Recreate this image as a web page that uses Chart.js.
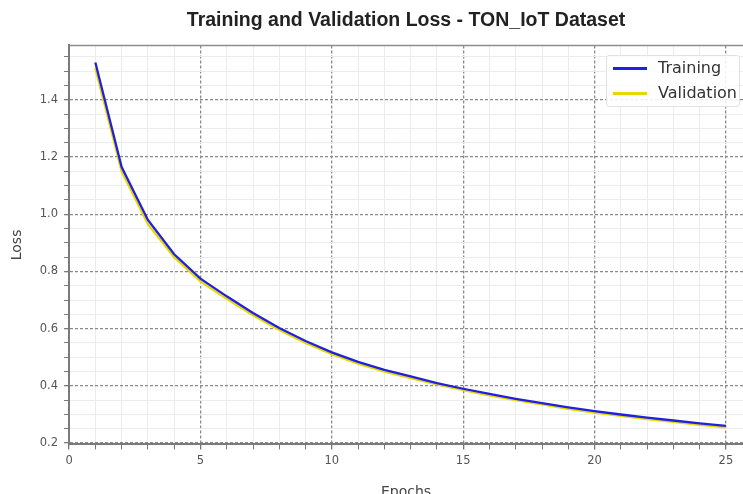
<!DOCTYPE html>
<html>
<head>
<meta charset="utf-8">
<script src="https://cdn.jsdelivr.net/npm/chart.js@4.4.1/dist/chart.umd.min.js"></script>
<style>
  body { margin: 0; background: #fff; }
  #wrap { position: relative; width: 743px; height: 494px; overflow: hidden; }
  #leyenda {
    position: absolute; left: 606px; top: 55px; width: 132px; height: 50px;
    background: rgba(255,255,255,0.85); border: 1px solid #e2e2e2; border-radius: 3px;
    font-family: "DejaVu Sans", sans-serif; font-size: 16px; color: #333;
  }
  #leyenda div { position: absolute; left: 6px; height: 20px; line-height: 20px; white-space: nowrap; }
  #leyenda span { display: inline-block; width: 34px; height: 2.5px; vertical-align: middle; margin-right: 11px; }
</style>
</head>
<body>
<div id="wrap">
  <canvas id="myChart"></canvas>
  <div id="leyenda"></div>
</div>
<script>
const epochs = [1, 2, 3, 4, 5, 6, 7, 8, 9, 10, 11, 12, 13, 14, 15, 16, 17, 18, 19, 20, 21, 22, 23, 24, 25];
const trainingLoss = [1.53, 1.165, 0.98, 0.86, 0.775, 0.713, 0.655, 0.602, 0.557, 0.517, 0.484, 0.456, 0.433, 0.41, 0.39, 0.372, 0.355, 0.34, 0.325, 0.312, 0.3, 0.289, 0.279, 0.269, 0.26];
const validationLoss = [1.51, 1.15, 0.965, 0.85, 0.765, 0.704, 0.647, 0.595, 0.55, 0.511, 0.478, 0.45, 0.427, 0.405, 0.385, 0.367, 0.35, 0.335, 0.32, 0.307, 0.295, 0.284, 0.274, 0.264, 0.255];
const xMajorTicks = [0, 5, 10, 15, 20, 25];
const yMajorTicks = [0.2, 0.4, 0.6, 0.8, 1.0, 1.2, 1.4];

const colorTraining = "#2020e0";
const colorValidation = "#e6d800";

const esMayorX = (v) => xMajorTicks.includes(v);
const esMayorY = (v) => yMajorTicks.some((t) => Math.abs(t - v) < 1e-6);

// lineas menores cada 1 epoch y cada 0.05 de loss
const xTodos = [];
for (let i = 0; i <= 25; i++) xTodos.push(i);
const yTodos = [];
for (let i = 4; i <= 31; i++) yTodos.push(Math.round(i * 5) / 100);

const bordeSuperior = {
  id: "bordeSuperior",
  afterDraw(chart) {
    const { ctx, chartArea } = chart;
    ctx.save();
    ctx.strokeStyle = "#8c8c8c";
    ctx.lineWidth = 1.5;
    ctx.beginPath();
    ctx.moveTo(chartArea.left, chartArea.top);
    ctx.lineTo(chartArea.right, chartArea.top);
    ctx.stroke();
    ctx.restore();
  },
};

const ctx = document.getElementById("myChart");

const cfg = {
  type: "line",
  data: {
    datasets: [
      {
        label: "Training",
        data: epochs.map((e, i) => ({ x: e, y: trainingLoss[i] })),
        borderColor: colorTraining,
        borderWidth: 2.3,
        pointRadius: 0,
        tension: 0,
      },
      {
        label: "Validation",
        data: epochs.map((e, i) => ({ x: e, y: validationLoss[i] })),
        borderColor: colorValidation,
        borderWidth: 2.3,
        pointRadius: 0,
        tension: 0,
        order: 1,
      },
    ],
  },
  options: {
    responsive: true,
    maintainAspectRatio: false,
    animation: false,
    layout: { padding: { left: 9, right: 0, top: 0, bottom: -7 } },
    plugins: {
      legend: { display: false },
      tooltip: { enabled: false },
      title: {
        display: true,
        fullSize: false,
        text: "Training and Validation Loss - TON_IoT Dataset",
        color: "#222",
        font: { family: "Liberation Sans", size: 19.5, weight: "bold" },
        padding: { top: 9, bottom: 13 },
      },
    },
    scales: {
      x: {
        type: "linear",
        min: 0,
        max: 25.65,
        afterBuildTicks: (scale) => {
          scale.ticks = xTodos.map((v) => ({ value: v }));
        },
        ticks: {
          autoSkip: false,
          maxRotation: 0,
          padding: 5,
          color: "#555",
          font: { family: "DejaVu Sans", size: 11.5 },
          callback: (v) => (esMayorX(v) ? String(v) : ""),
        },
        grid: {
          color: (c) => (c.tick && esMayorX(c.tick.value) ? "#8a8a8a" : "#ececec"),
          lineWidth: (c) => (c.tick && esMayorX(c.tick.value) ? 1.3 : 1),
          tickColor: "#777",
          tickLength: 5,
        },
        border: {
          display: true,
          color: "#7a7a7a",
          width: 2,
          dash: (c) => (c.tick && esMayorX(c.tick.value) ? [3, 2] : []),
        },
        title: {
          display: true,
          text: "Epochs",
          color: "#444",
          font: { family: "DejaVu Sans", size: 14 },
          padding: { top: 11, bottom: 0 },
        },
      },
      y: {
        type: "linear",
        min: 0.1955,
        max: 1.59,
        afterBuildTicks: (scale) => {
          scale.ticks = yTodos.map((v) => ({ value: v }));
        },
        ticks: {
          autoSkip: false,
          padding: 6,
          color: "#555",
          font: { family: "DejaVu Sans", size: 11.5 },
          callback: (v) => (esMayorY(v) ? v.toFixed(1) : ""),
        },
        grid: {
          color: (c) => (c.tick && esMayorY(c.tick.value) ? "#8a8a8a" : "#ececec"),
          lineWidth: (c) => (c.tick && esMayorY(c.tick.value) ? 1.3 : 1),
          tickColor: "#777",
          tickLength: 5,
        },
        border: {
          display: true,
          color: "#7a7a7a",
          width: 2,
          dash: (c) => (c.tick && esMayorY(c.tick.value) ? [3, 2] : []),
        },
        title: {
          display: true,
          text: "Loss",
          color: "#444",
          font: { family: "DejaVu Sans", size: 14 },
          padding: { top: 0, bottom: 8 },
        },
      },
    },
  },
  plugins: [bordeSuperior],
};

const myChart = new Chart(ctx, cfg);

// leyenda dentro del area del grafico, como en el original
const leyenda = document.getElementById("leyenda");
myChart.data.datasets.forEach((ds, i) => {
  const item = document.createElement("div");
  item.style.top = 2 + i * 25 + "px";
  item.innerHTML = `<span style="background:${ds.borderColor}"></span>${ds.label}`;
  leyenda.appendChild(item);
});
</script>
</body>
</html>
